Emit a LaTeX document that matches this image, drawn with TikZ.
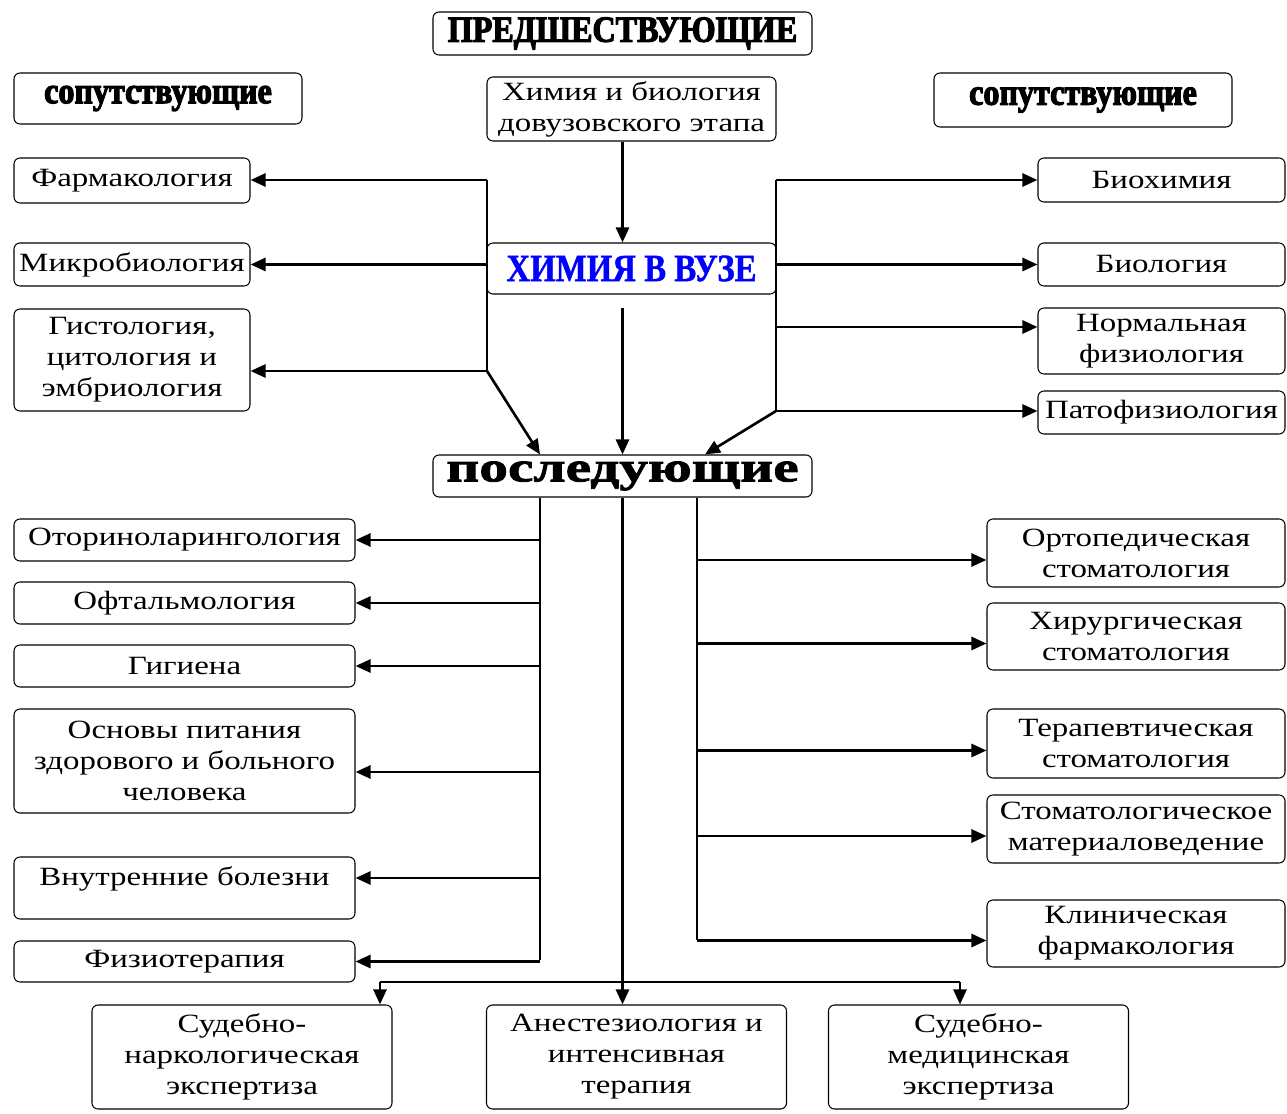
\documentclass[tikz,border=0pt]{standalone}
\usepackage{fontspec}
\setmainfont[FakeStretch=1.25]{Liberation Serif}
\newfontfamily\headfont[FakeStretch=0.87,FakeBold=3]{Liberation Serif Bold}
\newfontfamily\vuzfont[FakeStretch=0.85,FakeBold=1]{Liberation Serif Bold}
\newfontfamily\wideheadfont[FakeStretch=1.36,FakeBold=2]{Liberation Serif Bold}
\usetikzlibrary{arrows.meta}
\newcommand{\unitpx}{0.02cm}
\newcommand{\boxnode}[6]{\node(#1)[#2,minimum width=#4*\unitpx,minimum height=#5*\unitpx] at #3 {#6}}

\begin{document}
\begin{tikzpicture}[
        x=0.02cm, y=-0.02cm,
        every node/.style={font=\fontsize{15}{17.6}\selectfont},
        item/.style={rectangle,rounded corners=1.2mm,draw=black,line width=0.6pt,align=center,inner sep=1pt},
        head/.style={item,font=\headfont\fontsize{21}{23}\selectfont},
        arr/.style={-{Triangle[length=3mm,width=2.6mm]},line width=1.5pt},
        bus/.style={line width=1.5pt}
      ]
      \useasboundingbox (0,0) rectangle (1287,1114);

      % Headings
      \boxnode{pred}{head}{(622.5,33.5)}{379}{43}{ПРЕДШЕСТВУЮЩИЕ};
      \boxnode{lsop}{head}{(158,98.5)}{288}{51}{сопутствующие};
      \boxnode{rsop}{head}{(1083,100)}{298}{54}{сопутствующие};
      \boxnode{posl}{item,font=\wideheadfont\fontsize{24}{26}\selectfont}{(622.5,476)}{379}{42}{последующие};

      % Middle: school chemistry -> chemistry at the university
      \boxnode{hb}{item}{(631.5,109)}{289}{64}{Химия и биология\\довузовского этапа};
      \boxnode{vuz}{item,text=blue,font=\vuzfont\fontsize{22}{24}\selectfont}{(631.5,268.5)}{289}{51}{ХИМИЯ В ВУЗЕ};

      % Left: accompanying subjects
      \boxnode{farm}{item}{(132,180.5)}{236}{45}{Фармакология};
      \boxnode{micro}{item}{(132,264.5)}{236}{43}{Микробиология};
      \boxnode{gist}{item}{(132,360)}{236}{102}{Гистология,\\цитология и\\эмбриология};

      % Right: accompanying subjects
      \boxnode{bioch}{item}{(1161.5,180)}{247}{44}{Биохимия};
      \boxnode{biol}{item}{(1161.5,264.5)}{247}{43}{Биология};
      \boxnode{normf}{item}{(1161.5,341)}{247}{66}{Нормальная\\физиология};
      \boxnode{patof}{item}{(1161.5,412.5)}{247}{43}{Патофизиология};

      % Lower left column
      \boxnode{otor}{item}{(184.5,540)}{341}{42}{Оториноларингология};
      \boxnode{oft}{item}{(184.5,603)}{341}{42}{Офтальмология};
      \boxnode{gig}{item}{(184.5,666)}{341}{42}{Гигиена};
      \boxnode{osn}{item}{(184.5,761)}{341}{104}{Основы питания\\здорового и больного\\человека};
      \boxnode{vnut}{item,text depth=14pt}{(184.5,888)}{341}{62}{Внутренние болезни};
      \boxnode{fiz}{item}{(184.5,961.5)}{341}{41}{Физиотерапия};

      % Lower right column
      \boxnode{orto}{item}{(1136,553)}{298}{68}{Ортопедическая\\стоматология};
      \boxnode{hir}{item}{(1136,636.5)}{298}{67}{Хирургическая\\стоматология};
      \boxnode{ter}{item}{(1136,743.5)}{298}{69}{Терапевтическая\\стоматология};
      \boxnode{mat}{item}{(1136,829)}{298}{68}{Стоматологическое\\материаловедение};
      \boxnode{klin}{item}{(1136,933.5)}{298}{67}{Клиническая\\фармакология};

      % Bottom row
      \boxnode{sud1}{item}{(242,1057)}{300}{104}{Судебно-\\наркологическая\\экспертиза};
      \boxnode{anest}{item}{(636.5,1057)}{300}{104}{Анестезиология и\\интенсивная\\терапия};
      \boxnode{sud2}{item}{(978.5,1057)}{300}{104}{Судебно-\\медицинская\\экспертиза};

      % Corner points of the buses
      \coordinate (lt) at (487,180);
      \coordinate (lb) at (487,371);
      \coordinate (rt) at (776,180);
      \coordinate (rb) at (776,411);
      \coordinate (lv) at (540,960);
      \coordinate (rv) at (697,940);
      \coordinate (hl) at (380,982);
      \coordinate (hr) at (960,982);

      % Centre line
      \draw[arr] (hb.south -| posl.north) -- (vuz.north -| posl.north);
      \draw[arr] ([yshift=-0.26cm]vuz.south -| posl.north) -- (posl.north);

      % Left bus
      \draw[bus] (lt) -- (lb);
      \draw[arr] (lt) -- (lt -| farm.east);
      \draw[arr] (lt |- micro.east) -- (micro.east);
      \draw[arr] (lb) -- (lb -| gist.east);
      \draw[arr] (lb) -- (posl.north -| lv);

      % Right bus
      \draw[bus] (rt) -- (rb);
      \draw[arr] (rt) -- (rt -| bioch.west);
      \draw[arr] (rt |- biol.west) -- (biol.west);
      \draw[arr] ([yshift=0.28cm]rt |- normf.west) -- ([yshift=0.28cm]normf.west);
      \draw[arr] (rb) -- (rb -| patof.west);
      \draw[arr] (rb) -- ([xshift=0.16cm]posl.north -| rv);

      % Lower left bus
      \draw[bus] (posl.south -| lv) -- (lv);
      \foreach \n/\dy in {otor/0,oft/0,gig/0,osn/-0.22,vnut/0.2,fiz/0}
        \draw[arr] ([yshift=\dy cm]lv |- \n.east) -- ([yshift=\dy cm]\n.east);

      % Lower right bus
      \draw[bus] (posl.south -| rv) -- (rv);
      \foreach \n in {orto,hir,ter,mat,klin}
        \draw[arr] ([yshift=-0.14cm]rv |- \n.west) -- ([yshift=-0.14cm]\n.west);

      % Bottom row
      \draw[arr] (posl.south) -- (posl.south |- anest.north);
      \draw[bus] (hl) -- (hr);
      \draw[arr] (hl) -- (hl |- sud1.north);
      \draw[arr] (hr) -- (hr |- sud2.north);
    \end{tikzpicture}
\end{document}
